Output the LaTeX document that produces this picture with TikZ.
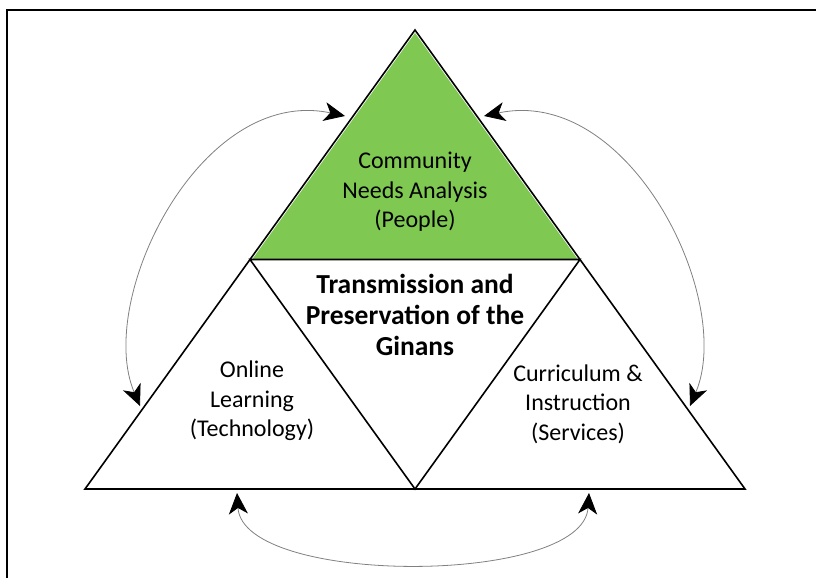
\documentclass[tikz,border=0pt]{standalone}
\usepackage{fontspec}
\setmainfont{Carlito}
\usetikzlibrary{positioning,calc,arrows.meta}
\definecolor{needsgreen}{RGB}{127,200,82}

\begin{document}
\begin{tikzpicture}[
    x=1pt, y=-1pt,
    part/.style={align=center,font=\fontsize{24}{29.5}\selectfont},
    core/.style={align=center,font=\fontsize{27.5}{31}\selectfont\bfseries},
    link/.style={{Stealth[length=21pt,width=19pt,inset=6pt,color=black]}-{Stealth[length=21pt,width=19pt,inset=6pt,color=black]},draw=black!50,line width=0.8pt},
    side/.style={line width=1.6pt,line join=miter}
    ]
        \useasboundingbox (0,0) rectangle (816,578);
        \draw[line width=1.4pt] (7,578) -- (7,10) -- (816,10);

        \coordinate (A) at (415,30);
        \coordinate (B) at (85,489);
        \coordinate (C) at (745,489);
        \coordinate (AB) at ($(A)!0.5!(B)$);
        \coordinate (AC) at ($(A)!0.5!(C)$);
        \coordinate (BC) at ($(B)!0.5!(C)$);

        \fill[needsgreen] (A) -- (AB) -- (AC) -- cycle;
        \draw[white,line width=3.2pt] (AB) -- (A) -- (AC);
        \draw[side] (A) -- (B) -- (C) -- cycle;
        \draw[side] (AB) -- (AC) -- (BC) -- cycle;

        \node[part] (people) at (415,192) {Community\\Needs Analysis\\(People)};
        \node[core] (ginans) at (415,315) {Transmission and\\Preservation of the\\Ginans};
        \node[part] (tech) at (252,401) {Online\\Learning\\(Technology)};
        \node[part] (services) at (578,404) {Curriculum \&\\Instruction\\(Services)};

        % ends of the curved arrows
        \coordinate (l1) at (140,406);
        \coordinate (l2) at (345,116);
        \coordinate (r1) at (690,406);
        \coordinate (r2) at (484,116);
        \coordinate (b1) at (237,493);
        \coordinate (b2) at (589,493);

        \draw[link] (l1) .. controls (95,300) and (200,85) .. (l2);
        \draw[link] (r1) .. controls (735,300) and (630,85) .. (r2);
        \draw[link] (b1) .. controls (243,586) and (583,586) .. (b2);
        % \draw[link] (tech) -- (services);
\end{tikzpicture}
\end{document}
